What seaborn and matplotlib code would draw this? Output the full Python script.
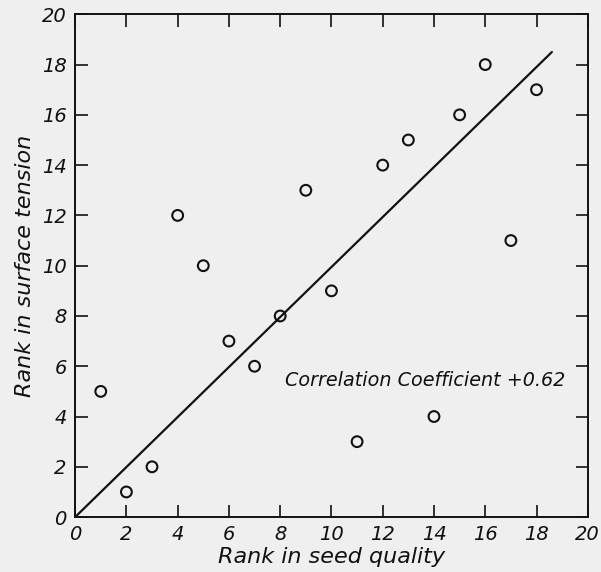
import matplotlib
matplotlib.use("Agg")
import matplotlib.pyplot as plt
import pandas as pd
import seaborn as sns

# ranks
seed_rank = [1, 2, 3, 4, 5, 6, 7, 8, 9, 10, 11, 12, 13, 14, 15, 16, 17, 18]
tension_rank = [5, 1, 2, 12, 10, 7, 6, 8, 13, 9, 3, 14, 15, 4, 16, 18, 11, 17]
fit_x = [0, 18.6]
fit_y = [0, 18.5]
ticks = list(range(0, 21, 2))

sns.set_theme(style="ticks")
plt.rcParams["font.family"] = ["DejaVu Sans"]

df = pd.DataFrame({"seed": seed_rank, "tension": tension_rank})
line = pd.DataFrame({"x": fit_x, "y": fit_y})

fig = plt.figure(figsize=(6.01, 5.72), dpi=100, facecolor="#efefef")
ax = fig.add_axes([0.125, 0.096, 0.853, 0.879])
ax.set_facecolor("#efefef")

sns.lineplot(data=line, x="x", y="y", color="#111111", lw=1.6, ax=ax)
sns.scatterplot(data=df, x="seed", y="tension", marker="o", s=60,
                facecolor="none", edgecolor="#111111", linewidth=1.5, ax=ax)

ax.text(8.2, 5.45, "Correlation Coefficient +0.62", fontsize=13.8,
        style="italic", color="#111111", va="center")

ax.set_xlim(0, 20)
ax.set_ylim(0, 20)
ax.set_xticks(ticks)
ax.set_yticks(ticks)
ax.tick_params(direction="in", length=9, width=1.2, top=True, right=True,
               labelsize=14, colors="#111111", pad=6)
for lab in ax.get_xticklabels() + ax.get_yticklabels():
    lab.set_style("italic")
for sp in ax.spines.values():
    sp.set_linewidth(1.4)
    sp.set_color("#111111")

ax.set_xlabel("Rank in seed quality", fontsize=16, style="italic",
              labelpad=2, color="#111111")
ax.set_ylabel("Rank in surface tension", fontsize=16, style="italic",
              labelpad=5, color="#111111")

fig.savefig("out.png", dpi=100, facecolor=fig.get_facecolor())
